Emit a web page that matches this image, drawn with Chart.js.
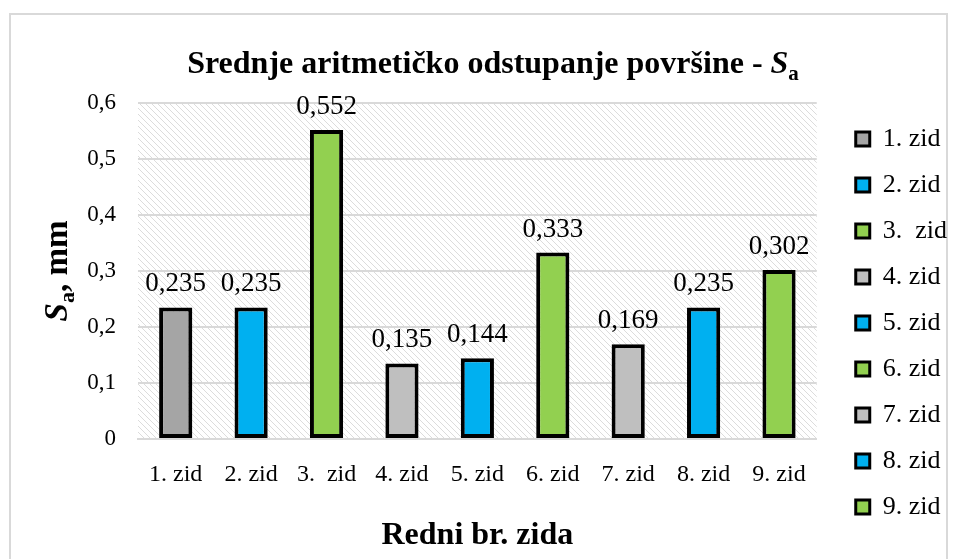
<!DOCTYPE html>
<html>
<head>
<meta charset="utf-8">
<script src="https://cdn.jsdelivr.net/npm/chart.js@4.4.0/dist/chart.umd.min.js"></script>
<style>
    html, body { margin: 0; padding: 0; background: #fff; }
    #wrap { width: 958px; height: 559px; position: relative; }
</style>
</head>
<body>
<div id="wrap"><canvas id="saChart"></canvas></div>
<script>
// podaci
const zidovi = ['1. zid', '2. zid', '3.  zid', '4. zid', '5. zid', '6. zid', '7. zid', '8. zid', '9. zid'];
const saVrijednosti = [0.235, 0.235, 0.552, 0.135, 0.144, 0.333, 0.169, 0.235, 0.302];
const boje = ['#A5A5A5', '#00B0F0', '#92D050', '#BFBFBF', '#00B0F0', '#92D050', '#BFBFBF', '#00B0F0', '#92D050'];
const yOznake = ['0', '0,1', '0,2', '0,3', '0,4', '0,5', '0,6'];

const SERIF = '"Liberation Serif", "Times New Roman", serif';
const zarez = v => v.toString().replace('.', ',');

// šrafura pozadine
function napraviSrafuru() {
    const c = document.createElement('canvas');
    c.width = 6; c.height = 6;
    const g = c.getContext('2d');
    g.strokeStyle = '#dcdcdc';
    g.lineWidth = 1;
    g.beginPath();
    g.moveTo(-1, -1); g.lineTo(7, 7);
    g.moveTo(5, -1); g.lineTo(7, 1);
    g.moveTo(-1, 5); g.lineTo(1, 7);
    g.stroke();
    return c;
}

// crta tekst iz dijelova (indeks, kurziv)
function crtajDijelove(ctx, dijelovi) {
    let sirina = 0;
    dijelovi.forEach(d => { ctx.font = d.font; d.w = ctx.measureText(d.t).width; sirina += d.w; });
    let x = -sirina / 2;
    dijelovi.forEach(d => {
        ctx.font = d.font;
        ctx.fillText(d.t, x, d.dy || 0);
        x += d.w;
    });
}

const okvirPlugin = {
    id: 'okvir',
    beforeDraw(chart) {
        const {ctx, chartArea: a} = chart;
        ctx.save();
        ctx.fillStyle = '#fff';
        ctx.fillRect(0, 0, chart.width, chart.height);
        ctx.strokeStyle = '#d9d9d9';
        ctx.lineWidth = 2;
        ctx.strokeRect(10, 14, 937, 560);
        ctx.fillStyle = ctx.createPattern(napraviSrafuru(), 'repeat');
        ctx.fillRect(a.left, a.top, a.right - a.left, a.bottom - a.top);
        ctx.restore();
    },
    afterDraw(chart) {
        const {ctx, chartArea: a} = chart;
        ctx.save();
        ctx.fillStyle = '#000';
        ctx.textBaseline = 'alphabetic';
        // naslov
        ctx.translate(493, 73);
        crtajDijelove(ctx, [
            {t: 'Srednje aritmetičko odstupanje površine - ', font: 'bold 32px ' + SERIF},
            {t: 'S', font: 'italic bold 32px ' + SERIF},
            {t: 'a', font: 'bold 21px ' + SERIF, dy: 7}
        ]);
        ctx.restore();

        // naslov y osi
        ctx.save();
        ctx.fillStyle = '#000';
        ctx.translate(67, (a.top + a.bottom) / 2);
        ctx.rotate(-Math.PI / 2);
        crtajDijelove(ctx, [
            {t: 'S', font: 'italic bold 33px ' + SERIF},
            {t: 'a', font: 'bold 22px ' + SERIF, dy: 7},
            {t: ', mm', font: 'bold 33px ' + SERIF}
        ]);
        ctx.restore();

        // naslov x osi
        ctx.save();
        ctx.fillStyle = '#000';
        ctx.translate((a.left + a.right) / 2, 544);
        crtajDijelove(ctx, [{t: 'Redni br. zida', font: 'bold 32px ' + SERIF}]);
        ctx.restore();

        // vrijednosti iznad stupaca
        const meta = chart.getDatasetMeta(0);
        ctx.save();
        ctx.fillStyle = '#000';
        ctx.font = '27px ' + SERIF;
        ctx.textAlign = 'center';
        ctx.textBaseline = 'alphabetic';
        meta.data.forEach((bar, i) => {
            ctx.fillText(zarez(saVrijednosti[i]), bar.x, bar.y - 16);
        });
        ctx.restore();
    }
};

new Chart(document.getElementById('saChart'), {
    type: 'bar',
    data: {
        labels: zidovi,
        datasets: [{
            data: saVrijednosti,
            backgroundColor: boje,
            borderColor: '#000',
            borderWidth: 4,
            borderSkipped: false,
            categoryPercentage: 1,
            barPercentage: 0.44
        }]
    },
    options: {
        responsive: true,
        maintainAspectRatio: false,
        animation: false,
        layout: {padding: {left: 70, right: 1, top: 103, bottom: 16}},
        scales: {
            x: {
                grid: {display: false, drawTicks: false},
                border: {color: '#d9d9d9', width: 2},
                ticks: {color: '#000', font: {family: SERIF, size: 24}, padding: 21, maxRotation: 0},
                afterFit(s) { s.height = 559 - 439 - 16; }
            },
            y: {
                min: 0, max: 0.6,
                grid: {color: '#d9d9d9', lineWidth: 2, drawTicks: false},
                border: {display: false},
                ticks: {
                    stepSize: 0.1, color: '#000', padding: 22,
                    font: {family: SERIF, size: 23},
                    callback: (v, i) => yOznake[i]
                },
                afterFit(s) { s.width = 68; }
            },
            // prazan prostor između grafa i legende
            razmak: {
                position: 'right',
                grid: {display: false},
                border: {display: false},
                ticks: {display: false},
                afterFit(s) { s.width = 19; }
            }
        },
        plugins: {
            title: {display: false},
            tooltip: {enabled: false},
            legend: {
                position: 'right',
                labels: {
                    color: '#000',
                    font: {family: SERIF, size: 26},
                    boxWidth: 14, boxHeight: 14,
                    padding: 20,
                    generateLabels: () => zidovi.map((t, i) => ({
                        text: t, fillStyle: boje[i], strokeStyle: '#000',
                        lineWidth: 3, hidden: false, index: i, datasetIndex: 0
                    }))
                }
            }
        }
    },
    plugins: [okvirPlugin]
});
</script>
</body>
</html>
